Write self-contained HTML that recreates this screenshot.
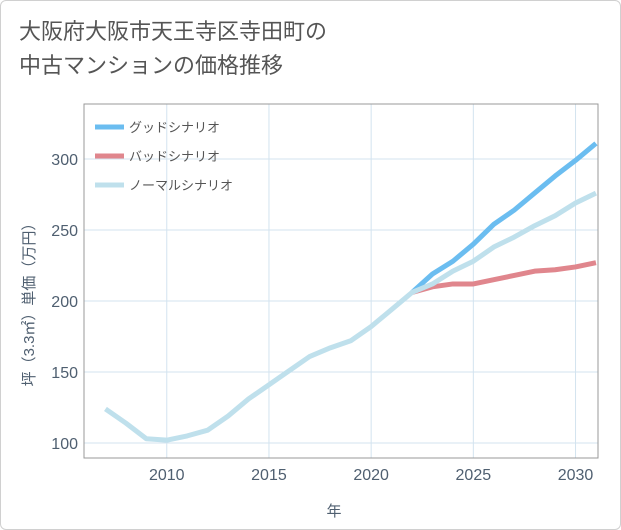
<!DOCTYPE html>
<html><head><meta charset="utf-8"><style>
body{margin:0;background:#fff;font-family:"Liberation Sans","Noto Sans CJK JP",sans-serif;}
.wrap{position:relative;width:619px;height:528px;border:1px solid #d0d0d0;border-radius:6px;overflow:hidden;}
.title{position:absolute;left:18px;top:14px;font-size:22px;line-height:34px;color:#555;}
svg{position:absolute;left:0;top:0;}
</style></head><body>
<div class="wrap">
<div class="title">大阪府大阪市天王寺区寺田町の<br>中古マンションの価格推移</div>
<svg id="c" width="621" height="530"></svg>
</div>
<script>
const years=[2007,2008,2009,2010,2011,2012,2013,2014,2015,2016,2017,2018,2019,2020,2021,2022,2023,2024,2025,2026,2027,2028,2029,2030,2031];
const normal=[124,114,103,102,105,109,119,131,141,151,161,167,172,182,194,206,212,221,228,238,245,253,260,269,276];
const futYears=[2022,2023,2024,2025,2026,2027,2028,2029,2030,2031];
const good=[206,219,228,240,254,264,276,288,299,311];
const bad=[206,210,212,212,215,218,221,222,224,227];
const xTicks=[2010,2015,2020,2025,2030];
const yTicks=[100,150,200,250,300];
const L=83,R=597,T=103,B=457;
const x=v=>L+(v-2005.95)/(2031.1-2005.95)*(R-L);
const y=v=>442-(v-100)*1.42;
const s=document.getElementById('c');
const NS='http://www.w3.org/2000/svg';
function mk(t,a){const e=document.createElementNS(NS,t);for(const k in a)e.setAttribute(k,a[k]);s.appendChild(e);return e;}
xTicks.forEach(v=>{
const g=mk('line',{x1:x(v),x2:x(v),y1:T,y2:B,stroke:'#d3e3ef','stroke-width':1});


const t=mk('text',{x:x(v),y:479,'text-anchor':'middle','font-size':16,fill:'#4f5f70'});t.textContent=v;


});
yTicks.forEach(v=>{
const g=mk('line',{x1:L,x2:R,y1:y(v),y2:y(v),stroke:'#d3e3ef','stroke-width':1});


const t=mk('text',{x:77,y:y(v)+6,'text-anchor':'end','font-size':16,fill:'#4f5f70'});t.textContent=v;


});
const fr=mk('rect',{x:L,y:T,width:R-L,height:B-T,fill:'none',stroke:'#999','stroke-width':1});


function line(xs,vs,col,name){
const p=mk('polyline',{points:xs.map((yy,i)=>x(yy)+','+y(vs[i])).join(' '),fill:'none',stroke:col,'stroke-width':5,'stroke-linejoin':'round'});


}
line(futYears,good,'#6bbdf0','good-scenario-line');
line(futYears,bad,'#e0868d','bad-scenario-line');
line(years,normal,'#bfe0ec','normal-scenario-line');
const leg=[['グッドシナリオ','#6bbdf0'],['バッドシナリオ','#e0868d'],['ノーマルシナリオ','#bfe0ec']];
leg.forEach((l,i)=>{
const yy=126+i*29;
const r=mk('line',{x1:94,x2:123,y1:yy,y2:yy,stroke:l[1],'stroke-width':5});


const t=mk('text',{x:128,y:yy+5,'font-size':13,fill:'#555'});t.textContent=l[0];


});
const xt=mk('text',{x:333,y:515,'text-anchor':'middle','font-size':15,fill:'#4f5f70'});xt.textContent='年';


const yt=mk('text',{x:0,y:0,'text-anchor':'middle','font-size':15,fill:'#4f5f70',transform:'translate(33,300) rotate(-90)'});yt.textContent='坪（3.3㎡）単価（万円）';


</script>
</body></html>
